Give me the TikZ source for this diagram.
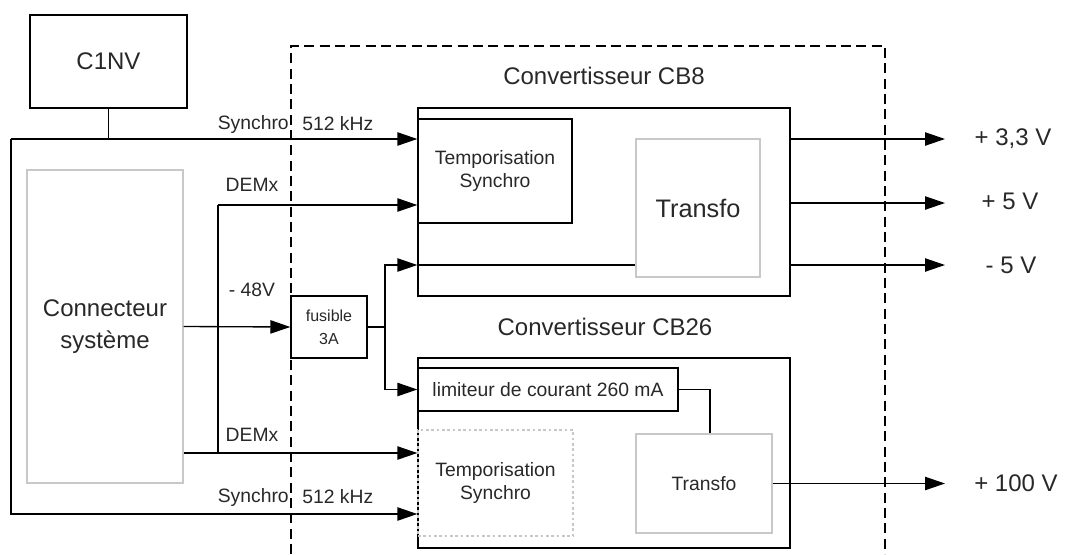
\documentclass[tikz,border=0pt]{standalone}
\usepackage{fontspec}
\setmainfont{Liberation Sans}
\usetikzlibrary{arrows.meta}
\definecolor{inkgray}{RGB}{40,40,40}
\definecolor{boxgray}{RGB}{200,200,200}
\tikzset{
  blk/.style={draw=black, line width=1pt, inner sep=0pt, text=inkgray, align=center},
  pale/.style={blk, draw=boxgray},
  wire/.style={line width=1pt},
  sig/.style={wire, -{Triangle[length=15pt,width=10pt]}},
  lbl/.style={text=inkgray, inner sep=0pt, align=center, font=\fontsize{14.5}{17.5}\selectfont},
  biglbl/.style={lbl, font=\fontsize{18}{24}\selectfont}
}
\begin{document}
\begin{tikzpicture}[x=0.75pt,y=-0.75pt]
\useasboundingbox (0,0) rectangle (1069,554);
\draw[wire, dash pattern=on 7.5pt off 4pt] (291,554) -- (291,46) -- (885,46) -- (885,554);
\node[blk, font=\fontsize{18}{21}\selectfont, minimum width=117.75pt, minimum height=69.75pt] (c1nv) at (108.5,61.5) {C1NV};
\node[pale, font=\fontsize{18}{24}\selectfont, minimum width=117pt, minimum height=234.75pt] (conn) at (105,326.5) {Connecteur\\système};
\node[blk, font=\fontsize{12}{17}\selectfont, minimum width=57pt, minimum height=46.5pt] (fus) at (329,327) {fusible\\3A};
\node[biglbl] (cb8lbl) at (604,76) {Convertisseur CB8};
\node[blk, minimum width=279pt, minimum height=141pt] (cb8) at (604,202) {};
\node[blk, font=\fontsize{14.5}{17.5}\selectfont, minimum width=115.5pt, minimum height=78pt] (tempo8) at (495,171) {Temporisation\\Synchro};
\node[pale, font=\fontsize{19}{22}\selectfont, minimum width=93pt, minimum height=103.5pt] (transfo8) at (698,208) {Transfo};
\node[biglbl] (cb26lbl) at (605,327) {Convertisseur CB26};
\node[blk, minimum width=279pt, minimum height=142.5pt] (cb26) at (604,453) {};
\node[blk, font=\fontsize{14.5}{17.5}\selectfont, minimum width=195pt, minimum height=32.25pt] (lim) at (548,389.5) {limiteur de courant 260 mA};
\node[pale, draw=boxgray, dash pattern=on 2pt off 2pt, font=\fontsize{14.5}{17.5}\selectfont, minimum width=116.25pt, minimum height=79.5pt] (tempo26) at (495.5,483) {Temporisation\\Synchro};
\node[pale, font=\fontsize{14.5}{17.5}\selectfont, minimum width=102pt, minimum height=74.25pt] (transfo26) at (704,483.5) {Transfo};
\coordinate (lp) at (11,139);
\coordinate (lb) at (11,514);
\coordinate (dm) at (218,205);
\coordinate (db) at (218,453);
\coordinate (f8) at (385,265);
\coordinate (f26) at (385,389.5);
\coordinate (tk) at (710,389.5);
\coordinate (o1) at (945,139);
\coordinate (o2) at (945,203);
\coordinate (o3) at (945,265);
\coordinate (o4) at (945,483.5);
\draw[wire] (c1nv.south) -- (c1nv.south |- lp);
\draw[sig] (lp) -- (tempo8.west |- lp);
\draw[sig] (lp) |- (tempo26.west |- lb);
\draw[sig] (dm) -- (tempo8.west |- dm);
\draw[wire] (dm) -- (db);
\draw[sig] (conn.east |- db) -- (tempo26.west |- db);
\draw[sig] (conn.east) -- (fus.west);
\draw[sig] (fus.east) -| (f8) -- (cb8.west |- f8);
\draw[sig] (fus.east) -| (f26) -- (lim.west);
\draw[wire] (cb8.west |- f8) -- (transfo8.west |- f8);
\draw[wire] (lim.east) -- (tk) -- (tk |- transfo26.north);
\draw[sig] (cb8.east |- o1) -- (o1);
\draw[sig] (cb8.east |- o2) -- (o2);
\draw[sig] (cb8.east |- o3) -- (o3);
\draw[sig] (transfo26.east) -- (o4);
\node[lbl, anchor=east] (sy1) at (289,124) {Synchro};
\node[lbl, anchor=west] (fq1) at (302,124) {512 kHz};
\node[lbl, anchor=east] (sy2) at (289,497) {Synchro};
\node[lbl, anchor=west] (fq2) at (302,497) {512 kHz};
\node[lbl] (dem1) at (252,185) {DEMx};
\node[lbl] (dem2) at (252,435) {DEMx};
\node[lbl] (v48) at (252,290) {- 48V};
\node[biglbl] (v33) at (1013,139) {+ 3,3 V};
\node[biglbl] (v5) at (1010,201) {+ 5 V};
\node[biglbl] (vm5) at (1011,265) {- 5 V};
\node[biglbl] (v100) at (1016,483) {+ 100 V};
\end{tikzpicture}
\end{document}
